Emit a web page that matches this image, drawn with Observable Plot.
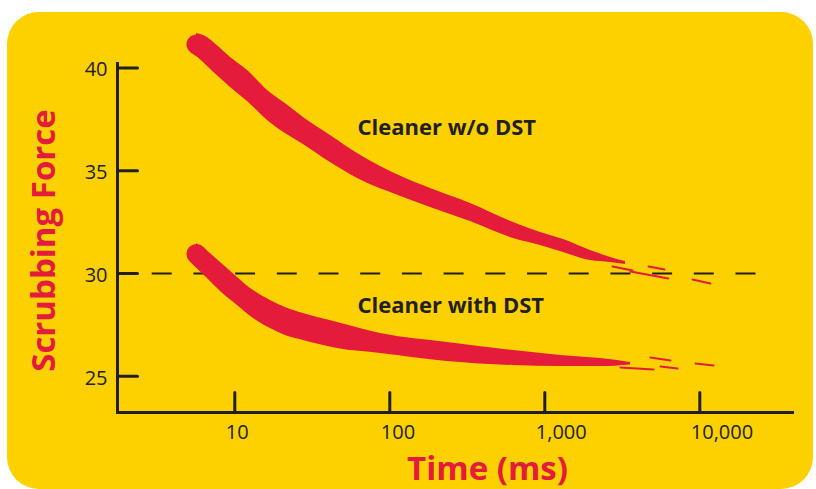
<!DOCTYPE html>
<html><head><meta charset="utf-8">
<script src="https://cdn.jsdelivr.net/npm/d3@7"></script>
<script src="https://cdn.jsdelivr.net/npm/@observablehq/plot@0.6"></script>
<style>
html,body{margin:0;padding:0;background:#fff;}
#wrap{position:relative;width:816px;height:489px;overflow:hidden;}
#panel{position:absolute;left:7px;top:12px;width:806px;height:477px;background:#FDD000;border-radius:32px;}
#chart{position:absolute;left:0;top:0;}
</style></head><body>
<div id="wrap"><div id="panel"></div><div id="chart"></div></div>
<script>
// ---- data ----
const xTicks = [10, 100, 1000, 10000];
const yTicks = [25, 30, 35, 40];
const xDomain = [1.751, 39630];
const yDomain = [23.236, 40.219];
const refValue = 30;
const refEnd = 23230;

// Cleaner w/o DST band (upper / lower edge)
const upperX      = [5.66, 6.28, 8.09, 9.38, 12.08, 16.26, 21.2, 27.7, 41.4, 61.9, 122.6, 183, 331.6, 628, 938, 1320, 1971, 2654, 3316];
const upperTop    = [41.68, 41.58, 40.95, 40.51, 39.88, 38.91, 38.27, 37.59, 36.72, 35.84, 34.67, 34.14, 33.41, 32.48, 32.00, 31.65, 31.12, 30.78, 30.58];
const upperBottom = [40.61, 40.27, 39.49, 39.05, 38.37, 37.45, 36.81, 36.28, 35.40, 34.62, 33.70, 33.21, 32.53, 31.70, 31.36, 31.02, 30.63, 30.54, 30.44];

// Cleaner with DST band
const lowerX      = [5.66, 6.28, 7.18, 8.09, 10.4, 13.2, 17.0, 21.2, 27.7, 46.0, 87.1, 235.7, 628, 1263, 2288, 3573];
const lowerTop    = [31.46, 31.22, 30.88, 30.54, 29.81, 29.17, 28.69, 28.35, 28.05, 27.62, 27.08, 26.64, 26.25, 26.01, 25.86, 25.67];
const lowerBottom = [30.44, 30.00, 29.51, 29.12, 28.44, 27.81, 27.32, 26.98, 26.74, 26.35, 26.11, 25.72, 25.52, 25.47, 25.47, 25.55];

// number of leading points drawn as a round-capped stroke
const headCount = 5;

// trailing streaks at the band ends
const streakId = ["u1","u1","u2","u2","u3","u3","u4","u4","l1","l1","l2","l2","l3","l3","l4","l4"];
const streakX  = [2734, 3679, 3573, 6281, 4667, 5920, 8974, 11720, 3079, 5027, 5578, 7180, 9383, 12260, 4807, 6471];
const streakY  = [30.34, 30.15, 30.10, 29.76, 30.34, 30.19, 29.71, 29.51, 25.43, 25.33, 25.47, 25.38, 25.62, 25.52, 25.91, 25.77];

const labelText = ["Cleaner w/o DST", "Cleaner with DST"];
const labelX = [61.9, 61.9];
const labelY = [37.1, 28.44];

const xTitle = "Time (ms)";
const yTitle = "Scrubbing Force";

// ---- styles ----
const RED = "#E41B3A";
const DARK = "#231F20";
const FONT = "Open Sans";

const upper = upperX.map((x, i) => ({x, top: upperTop[i], bottom: upperBottom[i]}));
const lower = lowerX.map((x, i) => ({x, top: lowerTop[i], bottom: lowerBottom[i]}));
const upperHead = upper.slice(0, headCount).map(d => ({x: d.x, y: (d.top + d.bottom) / 2}));
const lowerHead = lower.slice(0, headCount).map(d => ({x: d.x, y: (d.top + d.bottom) / 2}));
const streaks = streakX.map((x, i) => ({id: streakId[i], x, y: streakY[i]}));
const labels = labelText.map((t, i) => ({t, x: labelX[i], y: labelY[i]}));

const tickUp = {draw(ctx, l) { ctx.moveTo(0, 0); ctx.lineTo(0, -l); }};
const tickRight = {draw(ctx, l) { ctx.moveTo(0, 0); ctx.lineTo(l, 0); }};

const chart = Plot.plot({
  width: 816,
  height: 489,
  marginLeft: 117,
  marginRight: 24,
  marginTop: 63,
  marginBottom: 77,
  style: {background: "transparent", fontFamily: FONT, overflow: "visible"},
  x: {type: "log", domain: xDomain, axis: null},
  y: {domain: yDomain, axis: null},
  marks: [
    Plot.ruleY([refValue], {x1: xDomain[0], x2: refEnd, stroke: DARK, strokeWidth: 2, strokeDasharray: "20,21.7", strokeDashoffset: 7}),
    Plot.areaY(upper, {x: "x", y1: "bottom", y2: "top", fill: RED, curve: "monotone-x"}),
    Plot.line(upperHead, {x: "x", y: "y", stroke: RED, strokeWidth: 20, strokeLinecap: "round", curve: "monotone-x"}),
    Plot.areaY(lower, {x: "x", y1: "bottom", y2: "top", fill: RED, curve: "monotone-x"}),
    Plot.line(lowerHead, {x: "x", y: "y", stroke: RED, strokeWidth: 20, strokeLinecap: "round", curve: "monotone-x"}),
    Plot.line(streaks, {x: "x", y: "y", z: "id", stroke: RED, strokeWidth: 2, strokeLinecap: "round"}),
    Plot.frame({anchor: "left", stroke: DARK, strokeWidth: 3, strokeLinecap: "square"}),
    Plot.frame({anchor: "bottom", stroke: DARK, strokeWidth: 3, strokeLinecap: "square"}),
    Plot.vector(xTicks, {x: d => d, y: yDomain[0], length: 20, anchor: "start", shape: tickUp, stroke: DARK, strokeWidth: 3}),
    Plot.vector(yTicks, {x: xDomain[0], y: d => d, length: 20, anchor: "start", shape: tickRight, stroke: DARK, strokeWidth: 3}),
    Plot.axisX({ticks: xTicks, tickFormat: d3.format(","), tickSize: 0, tickPadding: 12, textAnchor: "start", dx: -9, fontSize: 20, fill: DARK, label: null}),
    Plot.axisY({ticks: yTicks, tickSize: 0, tickPadding: 10, dy: 2, fontSize: 20, fill: DARK, label: null}),
    Plot.text(labels, {x: "x", y: "y", text: "t", textAnchor: "start", fontSize: 22, fontWeight: "bold", fill: DARK}),
    Plot.text([xTitle], {frameAnchor: "bottom", textAnchor: "middle", lineAnchor: "middle", dx: 32.5, dy: 57, fontSize: 33, fontWeight: "bold", fill: RED}),
    Plot.text([yTitle], {frameAnchor: "left", textAnchor: "middle", lineAnchor: "middle", rotate: -90, dx: -73, dy: 2.5, fontSize: 33, fontWeight: "bold", fill: RED})
  ]
});
document.getElementById("chart").appendChild(chart);
</script>
</body></html>
